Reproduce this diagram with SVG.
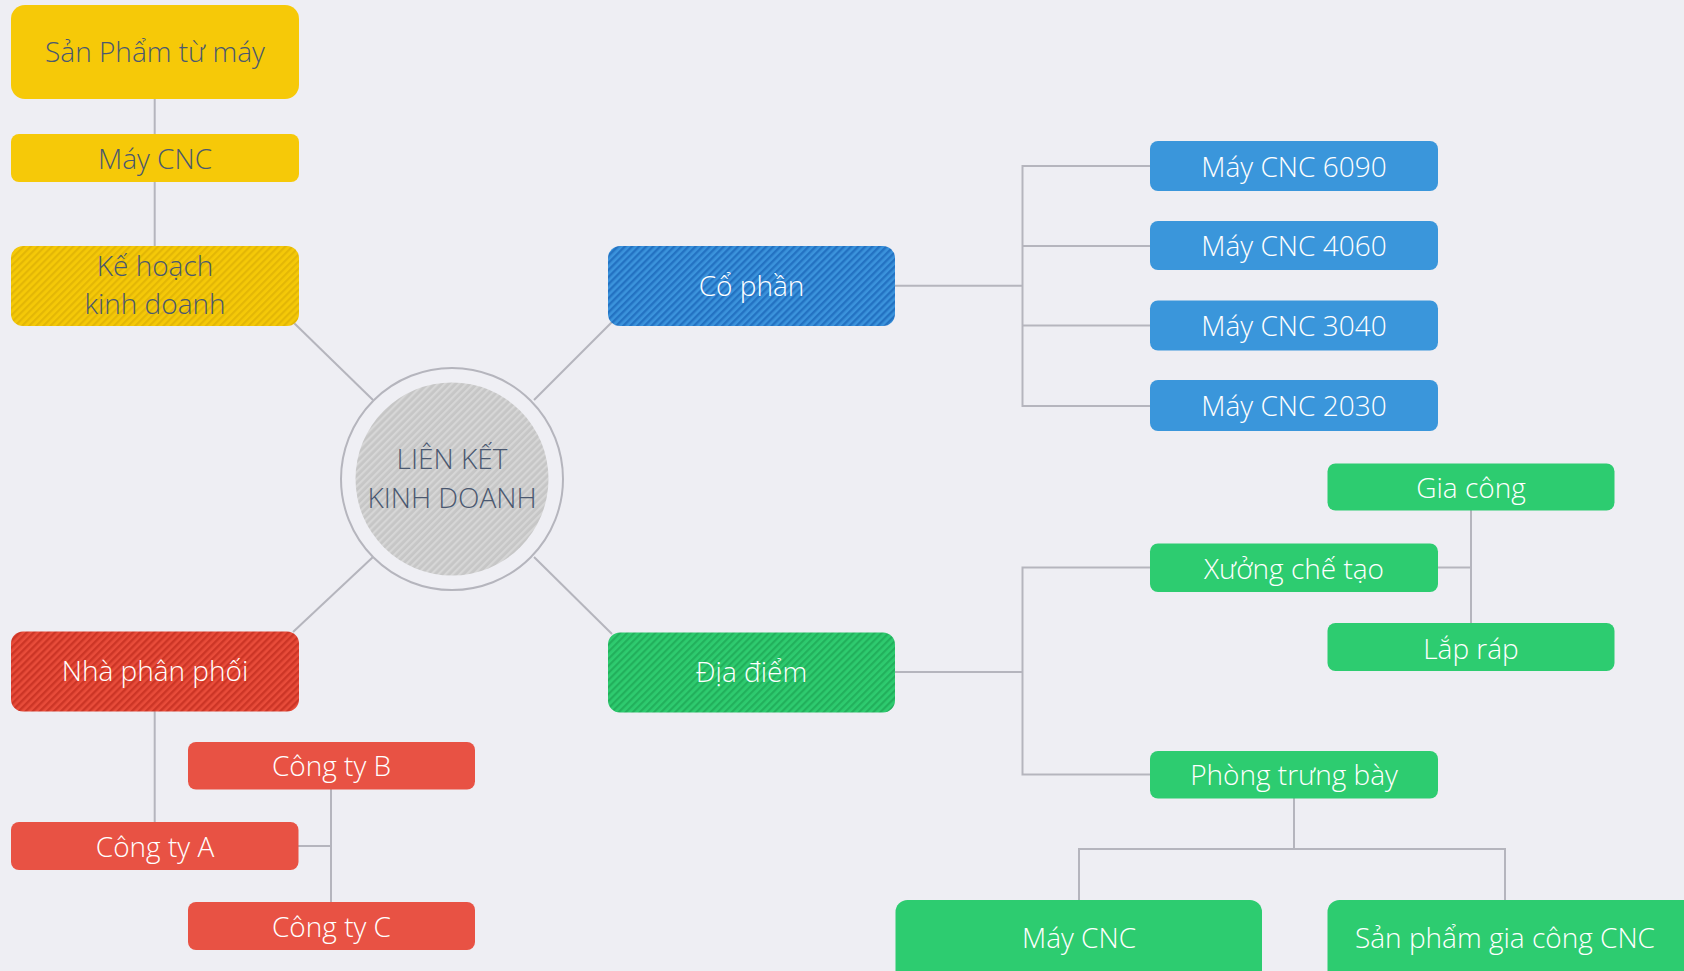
<svg xmlns="http://www.w3.org/2000/svg" width="1684" height="971" viewBox="0 0 1684 971">
<defs>
<pattern id="hY" width="5" height="5" patternUnits="userSpaceOnUse" patternTransform="rotate(45)"><rect width="5" height="5" fill="#f5c908"/><rect width="2.2" height="5" fill="#e3b706"/></pattern>
<pattern id="hB" width="5" height="5" patternUnits="userSpaceOnUse" patternTransform="rotate(45)"><rect width="5" height="5" fill="#3b93dc"/><rect width="2.4" height="5" fill="#2372c2"/></pattern>
<pattern id="hG" width="5" height="5" patternUnits="userSpaceOnUse" patternTransform="rotate(45)"><rect width="5" height="5" fill="#2ecb6f"/><rect width="2.2" height="5" fill="#22b05c"/></pattern>
<pattern id="hR" width="5" height="5" patternUnits="userSpaceOnUse" patternTransform="rotate(45)"><rect width="5" height="5" fill="#e84c3a"/><rect width="2.4" height="5" fill="#cc3526"/></pattern>
<pattern id="hC" width="5" height="5" patternUnits="userSpaceOnUse" patternTransform="rotate(45)"><rect width="5" height="5" fill="#c6c6c6"/><rect width="2.2" height="5" fill="#d6d6d6"/></pattern>
<style>
text{font-family:"Open Sans","Liberation Sans",sans-serif;font-weight:350;font-size:28px;text-anchor:middle}
.dk{fill:#4a5870}
.wt{fill:#ffffff}
.y{fill:#f6c908}
.b{fill:#3a96db}
.g{fill:#2dcc70}
.r{fill:#e85244}
.ln{stroke:#b5b5bd;stroke-width:2;fill:none}
</style>
</defs>
<rect width="1684" height="971" fill="#eeeef3"/>
<g id="connectors" class="ln">
<line x1="154.7" y1="98" x2="154.7" y2="134"/>
<line x1="154.7" y1="181" x2="154.7" y2="247"/>
<line x1="294" y1="323" x2="373" y2="400"/>
<line x1="534" y1="400" x2="612" y2="322"/>
<line x1="373" y1="557" x2="293" y2="632"/>
<line x1="534" y1="557" x2="612" y2="634"/>
<polyline points="894,285.7 1022.5,285.7"/>
<polyline points="1150,166 1022.5,166 1022.5,406 1150,406"/>
<line x1="1022.5" y1="246" x2="1150" y2="246"/>
<line x1="1022.5" y1="325.5" x2="1150" y2="325.5"/>
<polyline points="894,672 1022.5,672"/>
<polyline points="1150,567.5 1022.5,567.5 1022.5,774.5 1150,774.5"/>
<line x1="1438" y1="567.5" x2="1471" y2="567.5"/>
<line x1="1471" y1="510" x2="1471" y2="623"/>
<line x1="1294" y1="798" x2="1294" y2="849"/>
<polyline points="1079,900 1079,849 1505,849 1505,900"/>
<line x1="154.7" y1="711" x2="154.7" y2="822"/>
<line x1="298" y1="846" x2="331" y2="846"/>
<line x1="331" y1="789" x2="331" y2="902"/>
</g>
<g id="center">
<circle cx="452" cy="479" r="111" fill="#efeff4" stroke="#b5b5bd" stroke-width="2"/>
<circle cx="452" cy="479" r="96.5" fill="url(#hC)"/>
<text class="dk" x="452" y="469" font-size="27">LIÊN KẾT</text>
<text class="dk" x="452" y="507.5" font-size="27">KINH DOANH</text>
</g>
<g id="san-pham-tu-may">
<rect class="y" x="11" y="5" width="288" height="94" rx="14"/>
<text class="dk" x="155" y="62.3">Sản Phẩm từ máy</text>
</g>
<g id="may-cnc-vang">
<rect class="y" x="11" y="134" width="288" height="48" rx="8"/>
<text class="dk" x="155" y="169">Máy CNC</text>
</g>
<g id="ke-hoach">
<rect fill="url(#hY)" x="11" y="246" width="288" height="80" rx="12"/>
<text class="dk" x="155" y="276">Kế hoạch</text>
<text class="dk" x="155" y="314">kinh doanh</text>
</g>
<g id="co-phan">
<rect fill="url(#hB)" x="608" y="246" width="287" height="80" rx="12"/>
<text class="wt" x="751.5" y="296">Cổ phần</text>
</g>
<g id="cnc-6090">
<rect class="b" x="1150" y="141" width="288" height="50" rx="8"/>
<text class="wt" x="1294" y="176.5">Máy CNC 6090</text>
</g>
<g id="cnc-4060">
<rect class="b" x="1150" y="221" width="288" height="49" rx="8"/>
<text class="wt" x="1294" y="256">Máy CNC 4060</text>
</g>
<g id="cnc-3040">
<rect class="b" x="1150" y="300.5" width="288" height="50" rx="8"/>
<text class="wt" x="1294" y="336">Máy CNC 3040</text>
</g>
<g id="cnc-2030">
<rect class="b" x="1150" y="380" width="288" height="51" rx="8"/>
<text class="wt" x="1294" y="416">Máy CNC 2030</text>
</g>
<g id="dia-diem">
<rect fill="url(#hG)" x="608" y="632.5" width="287" height="80" rx="12"/>
<text class="wt" x="751.5" y="682">Địa điểm</text>
</g>
<g id="gia-cong">
<rect class="g" x="1327.5" y="463.5" width="287" height="47" rx="8"/>
<text class="wt" x="1471" y="497.5">Gia công</text>
</g>
<g id="xuong-che-tao">
<rect class="g" x="1150" y="543.5" width="288" height="48.5" rx="8"/>
<text class="wt" x="1294" y="578.5">Xưởng chế tạo</text>
</g>
<g id="lap-rap">
<rect class="g" x="1327.5" y="623" width="287" height="48" rx="8"/>
<text class="wt" x="1471" y="658.5">Lắp ráp</text>
</g>
<g id="phong-trung-bay">
<rect class="g" x="1150" y="751" width="288" height="47.5" rx="8"/>
<text class="wt" x="1294" y="785">Phòng trưng bày</text>
</g>
<g id="may-cnc-xanh">
<rect class="g" x="895.5" y="900" width="366.5" height="90" rx="12"/>
<text class="wt" x="1079" y="947.5">Máy CNC</text>
</g>
<g id="san-pham-gia-cong">
<rect class="g" x="1327.5" y="900" width="370" height="90" rx="12"/>
<text class="wt" x="1505" y="947.5">Sản phẩm gia công CNC</text>
</g>
<g id="nha-phan-phoi">
<rect fill="url(#hR)" x="11" y="631.5" width="288" height="80" rx="12"/>
<text class="wt" x="155" y="681">Nhà phân phối</text>
</g>
<g id="cong-ty-b">
<rect class="r" x="188" y="742" width="287" height="47.5" rx="8"/>
<text class="wt" x="331.5" y="776">Công ty B</text>
</g>
<g id="cong-ty-a">
<rect class="r" x="11" y="822" width="287.5" height="48" rx="8"/>
<text class="wt" x="155" y="856.5">Công ty A</text>
</g>
<g id="cong-ty-c">
<rect class="r" x="188" y="902" width="287" height="48" rx="8"/>
<text class="wt" x="331.5" y="936.5">Công ty C</text>
</g>
</svg>
